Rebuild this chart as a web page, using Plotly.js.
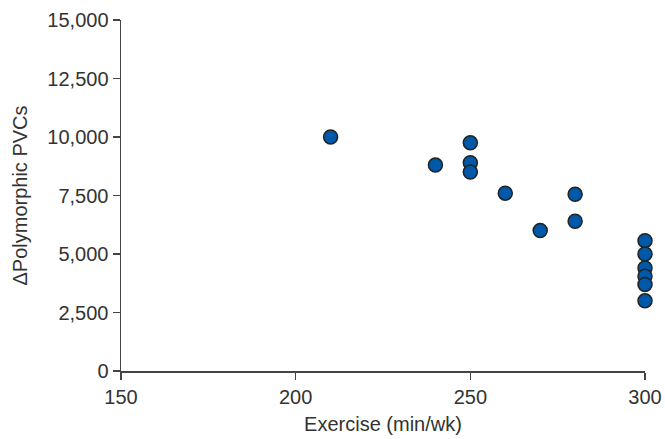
<!DOCTYPE html>
<html>
<head>
<meta charset="utf-8">
<script src="https://cdn.plot.ly/plotly-3.0.1.min.js"></script>
<style>html,body{margin:0;padding:0;background:#fff;}#chart{width:665px;height:439px;}</style>
</head>
<body>
<div id="chart"></div>
<script>
const exerciseMinWk = [210, 240, 250, 250, 250, 260, 270, 280, 280, 300, 300, 300, 300, 300, 300];
const deltaPolymorphicPVCs = [10000, 8800, 9750, 8900, 8500, 7600, 6000, 7550, 6400, 5570, 5000, 4400, 4050, 3700, 3000];
const xTickVals = [150, 200, 250, 300];
const yTickVals = [0, 2500, 5000, 7500, 10000, 12500, 15000];
const yTickText = ["0", "2,500", "5,000", "7,500", "10,000", "12,500", "15,000"];

const trace = {
  x: exerciseMinWk,
  y: deltaPolymorphicPVCs,
  type: 'scatter',
  mode: 'markers',
  cliponaxis: false,
  marker: {size: 14, color: '#0058a8', line: {color: '#222222', width: 1.5}},
  hoverinfo: 'x+y'
};

const font = {family: 'Liberation Sans, Arial, sans-serif', size: 20, color: '#333333'};

const layout = {
  width: 665, height: 439,
  margin: {l: 121, r: 20, t: 20, b: 67.5, pad: 0},
  paper_bgcolor: '#ffffff', plot_bgcolor: '#ffffff',
  showlegend: false,
  font: font,
  xaxis: {
    range: [150, 300], tickvals: xTickVals, ticktext: xTickVals.map(String),
    showgrid: false, zeroline: false, showline: true, linecolor: '#444444', linewidth: 1.5,
    ticks: 'outside', ticklen: 7, tickwidth: 1.5, tickcolor: '#444444',
    tickfont: font,
    title: {text: 'Exercise (min/wk)', font: font, standoff: 10}
  },
  yaxis: {
    range: [0, 15000], tickvals: yTickVals, ticktext: yTickText,
    showgrid: false, zeroline: false, showline: true, linecolor: '#444444', linewidth: 1.5,
    ticks: 'outside', ticklen: 7, tickwidth: 1.5, tickcolor: '#444444',
    tickfont: font,
    title: {text: 'ΔPolymorphic PVCs', font: font, standoff: 14}
  }
};

Plotly.newPlot('chart', [trace], layout, {displayModeBar: false, staticPlot: true});
</script>
</body>
</html>
